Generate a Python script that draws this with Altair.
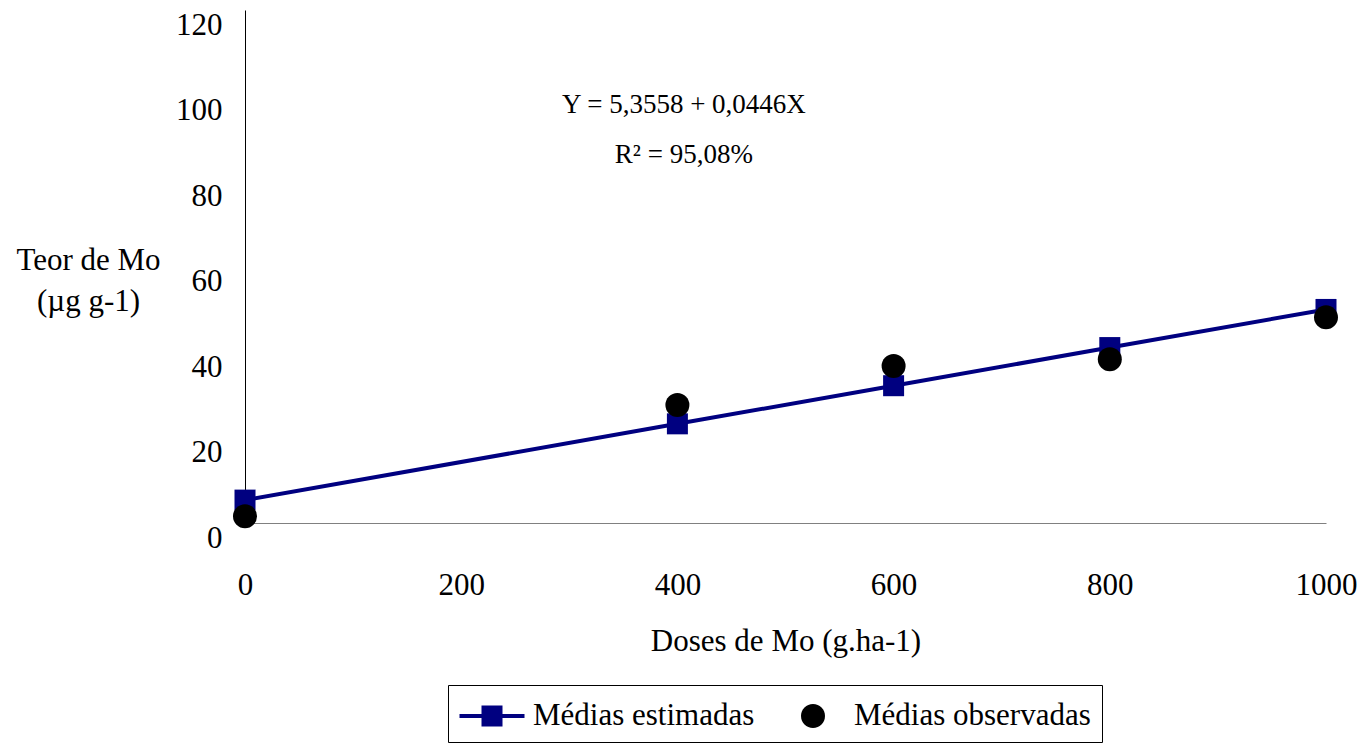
import altair as alt
import pandas as pd

# Doses de Mo (g/ha) and the two series of Mo content (µg/g)
doses = [0, 400, 600, 800, 1000]
estimadas = [5.3558, 23.1958, 32.1158, 41.0358, 49.9558]   # Y = 5,3558 + 0,0446X
observadas = [1.6, 27.6, 36.7, 38.3, 48.1]

series = ["Médias estimadas", "Médias observadas"]
series_colors = ["#000080", "#000000"]
x_ticks = [0, 200, 400, 600, 800, 1000]
y_ticks = [0, 20, 40, 60, 80, 100, 120]

eq_lines = ["Y = 5,3558 + 0,0446X", "R² = 95,08%"]
eq_x = [406, 406]
eq_y = [97.8, 86.1]

FONT = "Liberation Serif"

df = pd.DataFrame({"dose": doses, "est": estimadas, "obs": observadas})
eq_df = pd.DataFrame({"txt": eq_lines, "x": eq_x, "y": eq_y})
leg_df = pd.DataFrame({"serie": series, "x": [0, 0], "y": [0, 0]})

x_scale = alt.Scale(domain=[0, 1000], nice=False)
y_scale = alt.Scale(domain=[0, 120], nice=False)

x_axis = alt.Axis(
    values=x_ticks, format="d", labelFlush=False, title="Doses de Mo (g.ha-1)",
    grid=False, ticks=False, tickSize=0,
    labelPadding=47, labelFontSize=31, labelFont=FONT, labelColor="black",
    titleFont=FONT, titleFontSize=31, titleFontWeight="normal", titleColor="black",
    titleBaseline="alphabetic", titleY=127,
    domainColor="#808080", domainWidth=1,
)
y_axis = alt.Axis(
    values=y_ticks, format="d", labelFlush=False, title=["Teor de Mo", "(µg g-1)"],
    grid=False, ticks=False, tickSize=0,
    labelPadding=23, labelOffset=15, labelFontSize=31, labelFont=FONT, labelColor="black",
    titleFont=FONT, titleFontSize=31, titleFontWeight="normal", titleColor="black",
    titleAngle=0, titleAlign="center", titleBaseline="alphabetic",
    titleX=-157, titleY=259, titleLineHeight=41,
    domainColor="black", domainWidth=1,
)

base = alt.Chart(df)

line = base.mark_line(color="#000080", strokeWidth=4).encode(
    x=alt.X("dose:Q", scale=x_scale, axis=x_axis),
    y=alt.Y("est:Q", scale=y_scale, axis=y_axis),
)
squares = base.mark_point(shape="square", filled=True, color="#000080", size=441, opacity=1).encode(
    x=alt.X("dose:Q", scale=x_scale),
    y=alt.Y("est:Q", scale=y_scale),
)
circles = base.mark_point(shape="circle", filled=True, color="#000000", size=576, opacity=1).encode(
    x=alt.X("dose:Q", scale=x_scale),
    y=alt.Y("obs:Q", scale=y_scale),
)

equation = alt.Chart(eq_df).mark_text(font=FONT, fontSize=27, color="black", align="center", baseline="middle").encode(
    x=alt.X("x:Q", scale=x_scale),
    y=alt.Y("y:Q", scale=y_scale),
    text="txt:N",
)

# Legend symbols: a line with a square marker, and a filled circle
sym_line_square = "M-0.975,-0.1H2.275V0.1H-0.975Z M0.125,-0.525H1.175V0.525H0.125Z"
sym_circle = "M0.05,0A0.6,0.6 0 1,1 1.25,0A0.6,0.6 0 1,1 0.05,0Z"

legend_def = dict(
    title=None, orient="none", legendX=203, legendY=675, direction="horizontal",
    padding=11, strokeColor="black", fillColor="white",
    symbolSize=1600, symbolStrokeWidth=0, symbolOpacity=1,
    labelFont=FONT, labelFontSize=31, labelColor="black", labelOffset=34, labelLimit=500,
    columnPadding=25,
)

legend_layer = alt.Chart(leg_df).mark_point(filled=True, opacity=0, size=1).encode(
    x=alt.X("x:Q", scale=x_scale),
    y=alt.Y("y:Q", scale=y_scale),
    color=alt.Color("serie:N", scale=alt.Scale(domain=series, range=series_colors), legend=alt.Legend(**legend_def)),
    shape=alt.Shape("serie:N", scale=alt.Scale(domain=series, range=[sym_line_square, sym_circle]), legend=alt.Legend(**legend_def)),
)

chart = alt.layer(line, squares, circles, equation, legend_layer).properties(
    width=1081,
    height=513,
    autosize="none",
    padding={"left": 245, "top": 10, "right": 43, "bottom": 221},
    background="white",
).configure_view(strokeWidth=0)

chart.save("out.html", embed_options={"renderer": "svg", "actions": False})
